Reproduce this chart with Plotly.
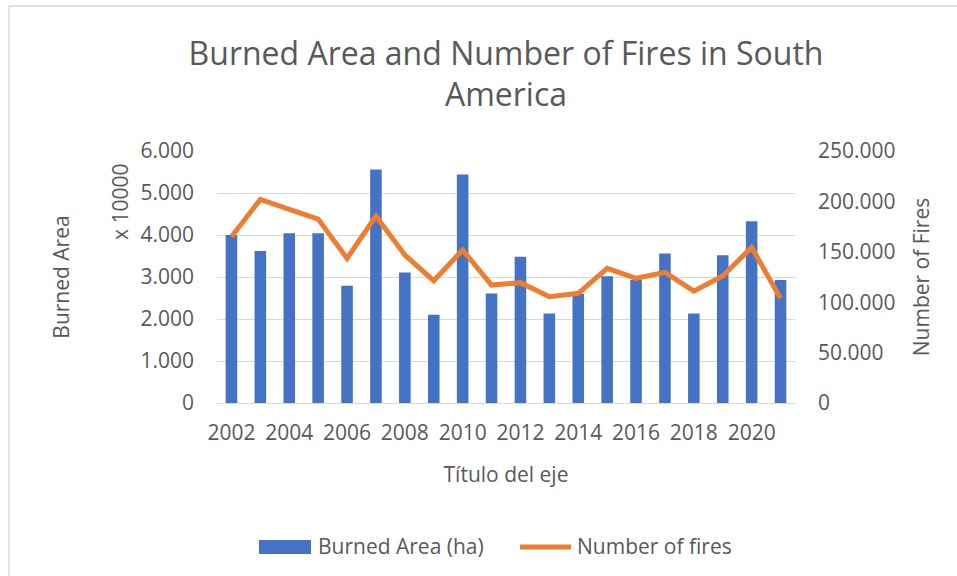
import plotly.graph_objects as go

years = list(range(2002, 2022))
# Burned area in units of 10 000 ha (axis shows "x 10000")
burned_area_x10000 = [4000, 3620, 4040, 4040, 2790, 5560, 3110, 2100, 5440, 2610,
                      3480, 2130, 2600, 3020, 2930, 3560, 2130, 3520, 4330, 2930]
number_of_fires = [165000, 202000, 192000, 182500, 143500, 185500, 146800, 121300, 151800, 117000,
                   119400, 105500, 108800, 133600, 123700, 129600, 111000, 126000, 154400, 103800]

TXT = "#595959"
FONT = "Open Sans"
BLUE = "#4472C4"
ORANGE = "#ED7D31"

W, H = 957, 576
L, R, T, B = 217, 162, 151, 173
PW, PH = W - L - R, H - T - B


def px(x):
    return (x - L) / PW


def py(y):
    return (H - B - y) / PH


fig = go.Figure()
fig.add_trace(go.Bar(x=years, y=burned_area_x10000, name="Burned Area (ha)",
                     marker=dict(color=BLUE, line=dict(width=0)), width=0.4,
                     yaxis="y", showlegend=False))
fig.add_trace(go.Scatter(x=years, y=number_of_fires, name="Number of fires",
                         mode="lines", line=dict(color=ORANGE, width=5),
                         yaxis="y2", showlegend=False))

fig.update_layout(
    width=W, height=H,
    paper_bgcolor="white", plot_bgcolor="white",
    separators=",.",
    font=dict(family=FONT, color=TXT, size=20),
    margin=dict(l=L, r=R, t=T, b=B, autoexpand=False),
    title=dict(text="Burned Area and Number of Fires in South<br>America",
               x=0.5, xanchor="center", xref="paper", y=1 - 64.5 / H, yanchor="middle",
               font=dict(family=FONT, size=32, color=TXT)),
    xaxis=dict(range=[2001.5, 2021.5], tickmode="linear", tick0=2002, dtick=2,
               showgrid=False, showline=True, linecolor="#d9d9d9", linewidth=1,
               ticks="", ticklabelstandoff=11,
               tickfont=dict(size=21, color=TXT),
               title=dict(text="Título del eje", font=dict(size=21, color=TXT), standoff=22)),
    yaxis=dict(range=[0, 6000], tickmode="linear", tick0=0, dtick=1000,
               tickformat=",d", showgrid=True, gridcolor="#d9d9d9", gridwidth=1,
               zeroline=False, showline=False, ticks="", ticklabelstandoff=22,
               tickfont=dict(size=21, color=TXT),
               title=dict(text="Burned Area", font=dict(size=21, color=TXT), standoff=65)),
    yaxis2=dict(range=[0, 250000], tickmode="linear", tick0=0, dtick=50000,
                tickformat=",d", overlaying="y", side="right", showgrid=False,
                zeroline=False, showline=False, ticks="", ticklabelstandoff=22,
                tickfont=dict(size=21, color=TXT),
                title=dict(text="Number of Fires", font=dict(size=21, color=TXT), standoff=19)),
    showlegend=False,
    bargap=0.6,
)

fig.add_annotation(text="x 10000", xref="paper", yref="paper", x=px(120), y=py(202),
                   xanchor="center", yanchor="middle", textangle=-90,
                   showarrow=False, font=dict(size=21, color=TXT, family=FONT))

# chart frame
fig.add_shape(type="rect", xref="paper", yref="paper",
              x0=px(9), x1=px(W + 5), y0=py(H + 5), y1=py(6),
              line=dict(color="#d9d9d9", width=1.5), fillcolor="rgba(0,0,0,0)", layer="below")

# legend (drawn)
fig.add_shape(type="rect", xref="paper", yref="paper",
              x0=px(259), x1=px(311), y0=py(554), y1=py(540),
              line=dict(width=0), fillcolor=BLUE)
fig.add_annotation(text="Burned Area (ha)", xref="paper", yref="paper", x=px(316), y=py(546),
                   xanchor="left", yanchor="middle", showarrow=False,
                   font=dict(size=21, color=TXT, family=FONT))
fig.add_shape(type="line", xref="paper", yref="paper",
              x0=px(520), x1=px(571), y0=py(547), y1=py(547),
              line=dict(color=ORANGE, width=5))
fig.add_annotation(text="Number of fires", xref="paper", yref="paper", x=px(575), y=py(546),
                   xanchor="left", yanchor="middle", showarrow=False,
                   font=dict(size=21, color=TXT, family=FONT))

fig.write_html("out.html", config={"displayModeBar": False},
               post_script="document.body.style.margin='0';")
